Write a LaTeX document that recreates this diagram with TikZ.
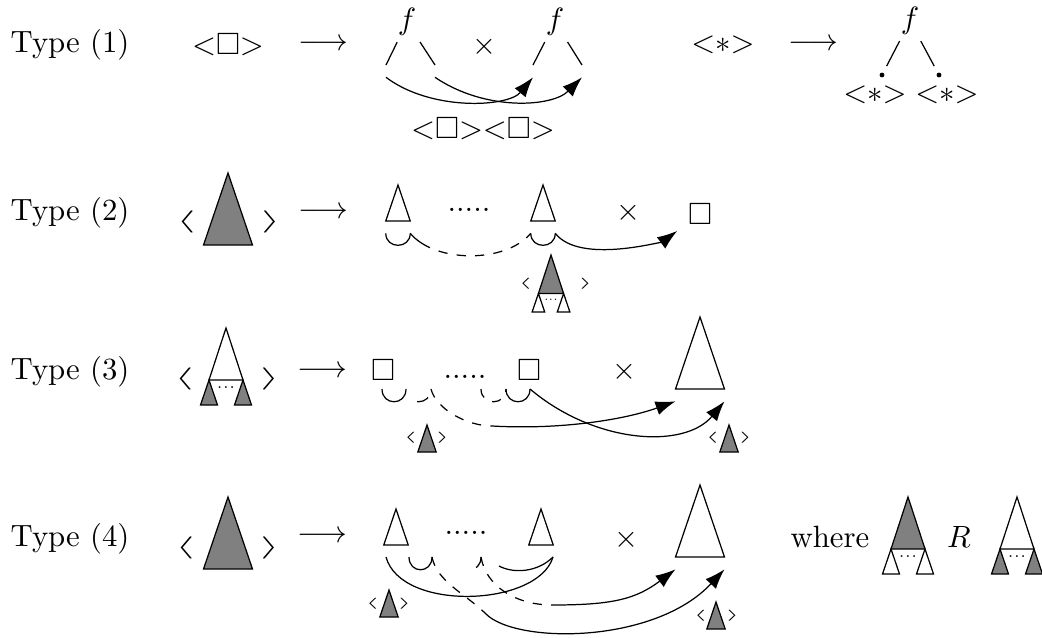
\documentclass[tikz,border=0pt]{standalone}
\usepackage{amssymb}
\usetikzlibrary{arrows.meta}

\tikzset{
    pics/tri/.style 2 args={
        code={
            \draw[fill=#2] (0,0) coordinate (-top)
                -- (-0.34*#1,#1) coordinate (-bl)
                -- (0.34*#1,#1) coordinate (-br) -- cycle;
        }
    },
    pics/ctree/.style 2 args={
        code={
            \draw[fill=#1] (0,0) -- (-17,52) -- (17,52) -- cycle;
            \draw[fill=#2] (-17,52) -- (-25.5,77) -- (-8.5,77) -- cycle;
            \draw[fill=#2] (17,52) -- (8.5,77) -- (25.5,77) -- cycle;
            \node[font=\tiny, inner sep=0pt, transform shape] at (0,60) {...};
        }
    }
}

\begin{document}
\begin{tikzpicture}[
    x=0.325pt, y=-0.325pt,
    lbl/.style={anchor=west, inner sep=0pt},
    fun/.style={inner sep=1pt},
    brk/.style={inner sep=0pt, xscale=1.6, yscale=0.72, transform shape},
    sbrk/.style={brk, font=\tiny},
    branch/.style={shorten <=1pt},
    arrow/.style={-{Latex[length=6.5pt, width=4.6pt]}},
    dlink/.style={dashed},
    dsolid/.style={dash pattern=on 8pt off 3pt on 3pt off 3pt on 3pt off 3pt on 3pt off 3pt on 3pt off 3pt on 3pt off 3pt on 12pt}
]
\useasboundingbox (0,0) rectangle (1042,637);

% Type (1)
\node[lbl] (type1) at (10,45) {Type (1)};
\node (lhs1) at (228,45) {${<}\square{>}$};
\node (to1) at (323,45) {$\longrightarrow$};
\node[fun] (fA) at (407,22) {$f$};
\node (times1) at (484,47) {$\times$};
\node[fun] (fB) at (555,22) {$f$};
\coordinate (a1) at (386,65);
\coordinate (a2) at (435,65);
\coordinate (b1) at (533,65);
\coordinate (b2) at (582,65);
\draw[branch] (fA) -- (a1);
\draw[branch] (fA) -- (a2);
\draw[branch] (fB) -- (b1);
\draw[branch] (fB) -- (b2);
\draw[arrow] ([yshift=-4pt]a1) .. controls +(45,34) and +(-25,30) .. ([yshift=-4pt]b1);
\draw[arrow] ([yshift=-4pt]a2) .. controls +(50,34) and +(-30,30) .. ([yshift=-4pt]b2);
\node (args1) at (483,129) {${<}\square{>}{<}\square{>}$};

\node (lhs1b) at (723,45) {${<}{*}{>}$};
\node (to1b) at (813,45) {$\longrightarrow$};
\node[fun] (fC) at (910,21) {$f$};
\coordinate (c1) at (882,75);
\coordinate (c2) at (939,75);
\draw[branch, shorten >=3.3pt] (fC) -- (c1);
\draw[branch, shorten >=3.3pt] (fC) -- (c2);
\fill (c1) circle (2.4);
\fill (c2) circle (2.4);
\node (star1) at (875,95) {${<}{*}{>}$};
\node (star2) at (947,95) {${<}{*}{>}$};

% Type (2)
\node[lbl] (type2) at (10,213) {Type (2)};
\node[brk] (lb2) at (186,222) {$\langle$};
\pic (big2) at (228,173) {tri={72}{gray}};
\node[brk] (rb2) at (271,222) {$\rangle$};
\node (to2) at (323,213) {$\longrightarrow$};
\pic (s1) at (398,185) {tri={36}{white}};
\node (dots2) at (469,210) {.....};
\pic (s2) at (543,185) {tri={36}{white}};
\node (times2) at (628,213) {$\times$};
\node (box2) at (700,214) {$\square$};
\draw ([yshift=-4pt]s1-bl) .. controls +(0,16) and +(0,16) .. ([yshift=-4pt]s1-br);
\draw[dsolid] ([yshift=-4pt]s1-br) .. controls +(25,30) and +(-25,30) .. ([yshift=-4pt]s2-bl);
\draw ([yshift=-4pt]s2-bl) .. controls +(0,16) and +(0,16) .. ([yshift=-4pt]s2-br);
\draw[arrow] ([yshift=-4pt]s2-br) .. controls +(25,32) and +(-35,26) .. (box2);
\node[sbrk] (lb2s) at (525,284) {$\langle$};
\pic[scale=0.74] (sub2) at (551,255) {ctree={gray}{white}};
\node[sbrk] (rb2s) at (586,284) {$\rangle$};

% Type (3)
\node[lbl] (type3) at (10,372) {Type (3)};
\node[brk] (lb3) at (184,379) {$\langle$};
\pic (lhs3) at (226,328) {ctree={white}{gray}};
\node[brk] (rb3) at (270,379) {$\rangle$};
\node (to3) at (322,372) {$\longrightarrow$};
\node (q1) at (383,370) {$\square$};
\node (dots3) at (465,377) {.....};
\node (q2) at (529,370) {$\square$};
\node (times3) at (624,372) {$\times$};
\pic (T3) at (700,317) {tri={72}{white}};
\coordinate (u1) at (382,389);
\coordinate (u2) at (406,389);
\coordinate (u3) at (431,389);
\coordinate (u4) at (481,389);
\coordinate (u5) at (506,389);
\coordinate (u6) at (530,389);
\coordinate (m3) at (492,426);
\draw (u1) .. controls +(0,17) and +(0,17) .. (u2);
\draw[dash pattern=on 0pt off 6pt on 4pt off 4pt] (u2) .. controls +(0,17) and +(0,17) .. (u3);
\draw[dlink] (u3) .. controls +(5,20) and +(-25,0) .. (m3);
\draw[arrow] (m3) .. controls +(70,4) and +(-50,18) .. ([yshift=-4pt]T3-bl);
\draw[dlink] (u4) .. controls +(0,17) and +(0,17) .. (u5);
\draw (u5) .. controls +(0,17) and +(0,17) .. (u6);
\draw[arrow] (u6) .. controls +(65,55) and +(-40,48) .. ([yshift=-4pt]T3-br);
\node[sbrk] (lb3a) at (410,438) {$\langle$};
\pic (g3a) at (427,425) {tri={27}{gray}};
\node[sbrk] (rb3a) at (443,438) {$\rangle$};
\node[sbrk] (lb3b) at (712,438) {$\langle$};
\pic (g3b) at (729,425) {tri={27}{gray}};
\node[sbrk] (rb3b) at (746,438) {$\rangle$};

% Type (4)
\node[lbl] (type4) at (10,539) {Type (4)};
\node[brk] (lb4) at (185,548) {$\langle$};
\pic (big4) at (228,497) {tri={72}{gray}};
\node[brk] (rb4) at (270,548) {$\rangle$};
\node (to4) at (322,537) {$\longrightarrow$};
\pic (p1) at (396,509) {tri={36}{white}};
\node (dots4) at (466,533) {.....};
\pic (p2) at (541,509) {tri={36}{white}};
\node (times4) at (626,540) {$\times$};
\pic (T4) at (700,485) {tri={72}{white}};
\coordinate (v1) at (386,557);
\coordinate (v2) at (409,557);
\coordinate (v3) at (432,557);
\coordinate (v4) at (458,557);
\coordinate (v5) at (481,557);
\coordinate (v6) at (499,566);
\coordinate (v7) at (553,557);
\coordinate (m4a) at (486,614);
\coordinate (m4b) at (552,605);
\draw (v1) .. controls +(15,55) and +(-15,50) .. (v7);
\draw (v2) .. controls +(0,17) and +(0,17) .. (v3);
\draw[dlink] (v3) .. controls +(5,25) and +(-20,-20) .. (m4a);
\draw[arrow] (m4a) .. controls +(30,30) and +(-70,75) .. ([yshift=-4pt]T4-br);
\draw[dash pattern=on 0pt off 8.5pt on 5pt] (v4) .. controls +(0,17) and +(0,17) .. (v5);
\draw[dlink] (v5) .. controls +(5,30) and +(-35,0) .. (m4b);
\draw[arrow] (m4b) .. controls +(60,0) and +(-40,30) .. ([yshift=-4pt]T4-bl);
\draw (v6) .. controls +(15,8) and +(-15,15) .. (v7);
\node[sbrk] (lb4a) at (372,604) {$\langle$};
\pic (g4a) at (389,590) {tri={27}{gray}};
\node[sbrk] (rb4a) at (405,604) {$\rangle$};
\node[sbrk] (lb4b) at (700,616) {$\langle$};
\pic (g4b) at (716,602) {tri={27}{gray}};
\node[sbrk] (rb4b) at (733,616) {$\rangle$};

\node (where) at (830,537) {where};
\pic (wl) at (908,497) {ctree={gray}{white}};
\node (rel) at (959,537) {$R$};
\pic (wr) at (1017,497) {ctree={white}{gray}};
\end{tikzpicture}
\end{document}
